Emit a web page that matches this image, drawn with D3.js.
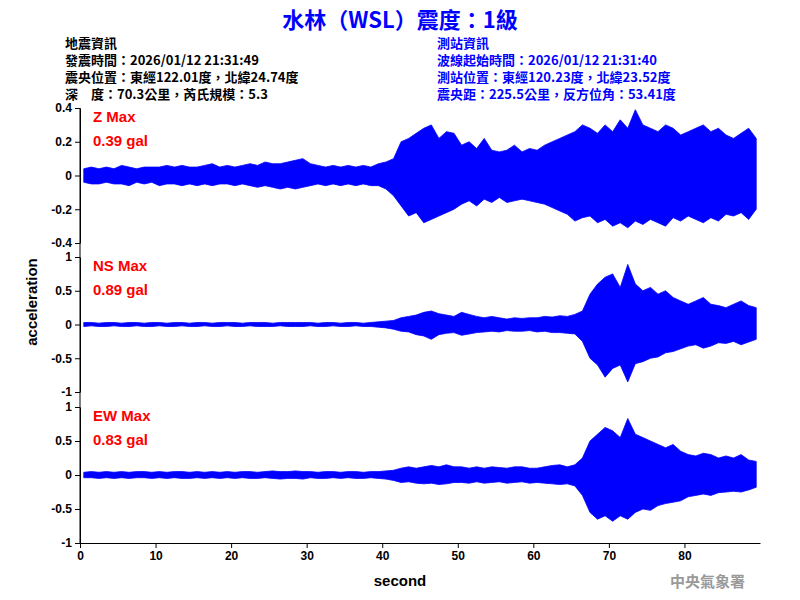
<!DOCTYPE html>
<html><head><meta charset="utf-8">
<script src="https://cdn.jsdelivr.net/npm/d3@7"></script>
<style>body{margin:0;background:#fff}</style></head>
<body><script>
// per-second envelope of each trace (max / min, gal)
var zMax = [.04,.05,.04,.05,.04,.06,.05,.04,.05,.05, .05,.06,.05,.06,.05,.05,.06,.07,.05,.06,
  .05,.06,.07,.06,.08,.07,.07,.08,.09,.10, .07,.06,.05,.06,.05,.06,.05,.06,.05,.07,
  .08,.10,.20,.22,.25,.28,.30,.22,.26,.25, .18,.20,.16,.22,.15,.14,.15,.18,.14,.16,
  .15,.18,.20,.22,.24,.26,.30,.28,.25,.30, .26,.33,.28,.39,.30,.28,.26,.30,.28,.24,
  .26,.28,.30,.26,.28,.24,.22,.25,.28,.22];
var zMin = [-.04,-.05,-.05,-.04,-.05,-.05,-.06,-.04,-.05,-.04, -.06,-.05,-.05,-.06,-.05,-.06,-.05,-.06,-.05,-.05,
  -.06,-.05,-.06,-.07,-.06,-.07,-.08,-.07,-.08,-.07, -.06,-.05,-.06,-.05,-.06,-.05,-.06,-.05,-.06,-.06,
  -.08,-.12,-.18,-.24,-.22,-.28,-.26,-.24,-.22,-.20, -.17,-.15,-.18,-.14,-.16,-.13,-.16,-.15,-.14,-.15,
  -.16,-.17,-.19,-.21,-.23,-.27,-.25,-.24,-.28,-.26, -.30,-.28,-.31,-.27,-.29,-.26,-.28,-.30,-.25,-.27,
  -.24,-.26,-.28,-.25,-.27,-.23,-.24,-.22,-.26,-.20];
var nsMax = [.03,.03,.02,.03,.03,.02,.03,.03,.02,.03, .03,.02,.03,.03,.02,.03,.03,.02,.03,.03,
  .03,.02,.03,.03,.03,.02,.03,.03,.03,.03, .03,.02,.03,.03,.02,.03,.03,.02,.03,.04,
  .05,.06,.10,.12,.14,.18,.20,.16,.14,.12, .18,.15,.12,.10,.12,.10,.08,.10,.09,.10,
  .10,.12,.11,.13,.12,.15,.20,.45,.60,.70, .75,.55,.89,.60,.50,.55,.45,.50,.40,.35,
  .30,.35,.40,.30,.28,.25,.30,.35,.28,.25];
var nsMin = [-.03,-.02,-.03,-.03,-.02,-.03,-.03,-.02,-.03,-.03, -.02,-.03,-.03,-.02,-.03,-.03,-.02,-.03,-.03,-.02,
  -.03,-.03,-.02,-.03,-.03,-.03,-.02,-.03,-.03,-.03, -.02,-.03,-.03,-.02,-.03,-.03,-.02,-.03,-.03,-.04,
  -.05,-.07,-.10,-.11,-.15,-.17,-.22,-.15,-.13,-.12, -.16,-.14,-.12,-.11,-.10,-.11,-.09,-.10,-.10,-.09,
  -.11,-.10,-.12,-.12,-.13,-.14,-.25,-.50,-.60,-.78, -.65,-.60,-.85,-.58,-.55,-.50,-.48,-.42,-.40,-.36,
  -.32,-.30,-.35,-.32,-.27,-.28,-.25,-.30,-.26,-.22];
var ewMax = [.04,.05,.04,.05,.04,.05,.04,.05,.05,.04, .05,.04,.05,.05,.04,.05,.04,.05,.04,.05,
  .04,.05,.05,.04,.05,.06,.05,.05,.06,.05, .05,.04,.05,.05,.04,.05,.05,.04,.05,.05,
  .06,.07,.10,.12,.10,.12,.14,.12,.15,.12, .12,.10,.12,.10,.12,.11,.10,.12,.12,.10,
  .10,.12,.14,.15,.12,.15,.25,.50,.60,.70, .65,.55,.83,.60,.55,.50,.45,.40,.45,.35,
  .30,.28,.32,.30,.25,.28,.25,.30,.22,.20];
var ewMin = [-.04,-.04,-.05,-.04,-.05,-.04,-.05,-.04,-.04,-.05, -.04,-.05,-.04,-.05,-.05,-.04,-.05,-.04,-.05,-.04,
  -.05,-.04,-.05,-.05,-.04,-.05,-.06,-.05,-.05,-.06, -.04,-.05,-.05,-.04,-.05,-.04,-.05,-.05,-.04,-.05,
  -.06,-.08,-.11,-.10,-.12,-.13,-.12,-.14,-.13,-.11, -.11,-.12,-.10,-.12,-.11,-.10,-.12,-.11,-.10,-.12,
  -.11,-.12,-.13,-.14,-.13,-.16,-.30,-.55,-.65,-.60, -.68,-.60,-.65,-.55,-.50,-.52,-.45,-.42,-.40,-.38,
  -.32,-.30,-.28,-.30,-.26,-.25,-.24,-.25,-.22,-.18];

var xTicks = [0,10,20,30,40,50,60,70,80];
var panels = [
  {name:"Z Max", peak:"0.39 gal", max:zMax, min:zMin, dom:[-0.4,0.4], ticks:[-0.4,-0.2,0,0.2,0.4], top:108, bot:243},
  {name:"NS Max", peak:"0.89 gal", max:nsMax, min:nsMin, dom:[-1,1], ticks:[-1,-0.5,0,0.5,1], top:257, bot:392},
  {name:"EW Max", peak:"0.83 gal", max:ewMax, min:ewMin, dom:[-1,1], ticks:[-1,-0.5,0,0.5,1], top:407, bot:543}
];

var svg = d3.select("body").append("svg").attr("width",800).attr("height",600)
  .style("font-family","'Liberation Sans', Arial, sans-serif");

var x = d3.scaleLinear().domain([0,90]).range([80,760]);
var fmt = function(d){ return String(d); };

panels.forEach(function(p){
  var y = d3.scaleLinear().domain(p.dom).range([p.bot,p.top]);
  // dense trace drawn as filled envelope with a thin outline
  var area = d3.area()
    .x(function(d,k){ return x(k + 0.5); })
    .y0(function(d,k){ return y(p.min[k]); })
    .y1(function(d){ return y(d); });
  svg.append("path").datum(p.max)
    .attr("fill","#0000ff").attr("stroke","#0000ff").attr("stroke-width",0.8)
    .attr("d", area);
  var ax = svg.append("g").attr("transform","translate(80,0)")
    .call(d3.axisLeft(y).tickValues(p.ticks).tickFormat(fmt).tickSize(5).tickSizeOuter(0));
  ax.selectAll("text").style("font-size","12px").style("font-weight","bold");
  svg.append("text").attr("x",93).attr("y",p.top+14).attr("fill","#ff0000")
    .style("font-size","15px").style("font-weight","bold").text(p.name);
  svg.append("text").attr("x",93).attr("y",p.top+38).attr("fill","#ff0000")
    .style("font-size","15px").style("font-weight","bold").text(p.peak);
});

var bx = svg.append("g").attr("transform","translate(0,543)")
  .call(d3.axisBottom(x).tickValues(xTicks).tickSize(5).tickSizeOuter(0));
bx.selectAll("text").style("font-size","12px").style("font-weight","bold");
svg.append("line").attr("x1",80).attr("x2",80).attr("y1",108).attr("y2",543).attr("stroke","#000");

svg.append("text").attr("x",400).attr("y",586).attr("text-anchor","middle")
  .style("font-size","15px").style("font-weight","bold").text("second");
svg.append("text").attr("transform","translate(37,302) rotate(-90)").attr("text-anchor","middle")
  .style("font-size","15px").style("font-weight","bold").text("acceleration");

var cjk = "'Noto Sans CJK TC', sans-serif";
svg.append("text").attr("x",400).attr("y",28).attr("text-anchor","middle").attr("fill","#0000ff")
  .style("font-family",cjk).style("font-size","22px").style("font-weight","bold").text("水林（WSL）震度：1級");

var left = ["地震資訊","發震時間：2026/01/12 21:31:49","震央位置：東經122.01度，北緯24.74度","深　度：70.3公里，芮氏規模：5.3"];
var right = ["測站資訊","波線起始時間：2026/01/12 21:31:40","測站位置：東經120.23度，北緯23.52度","震央距：225.5公里，反方位角：53.41度"];
left.forEach(function(t,k){
  svg.append("text").attr("x",65).attr("y",48+k*17).attr("fill","#000")
    .style("font-family",cjk).style("font-size","13px").style("font-weight","bold").text(t);
});
right.forEach(function(t,k){
  svg.append("text").attr("x",437).attr("y",48+k*17).attr("fill","#0000ff")
    .style("font-family",cjk).style("font-size","13px").style("font-weight","bold").text(t);
});
svg.append("text").attr("x",745).attr("y",587).attr("text-anchor","end").attr("fill","#999")
  .style("font-family","'Noto Sans CJK TC', serif").style("font-size","15px").style("font-weight","bold").text("中央氣象署");
</script></body></html>
